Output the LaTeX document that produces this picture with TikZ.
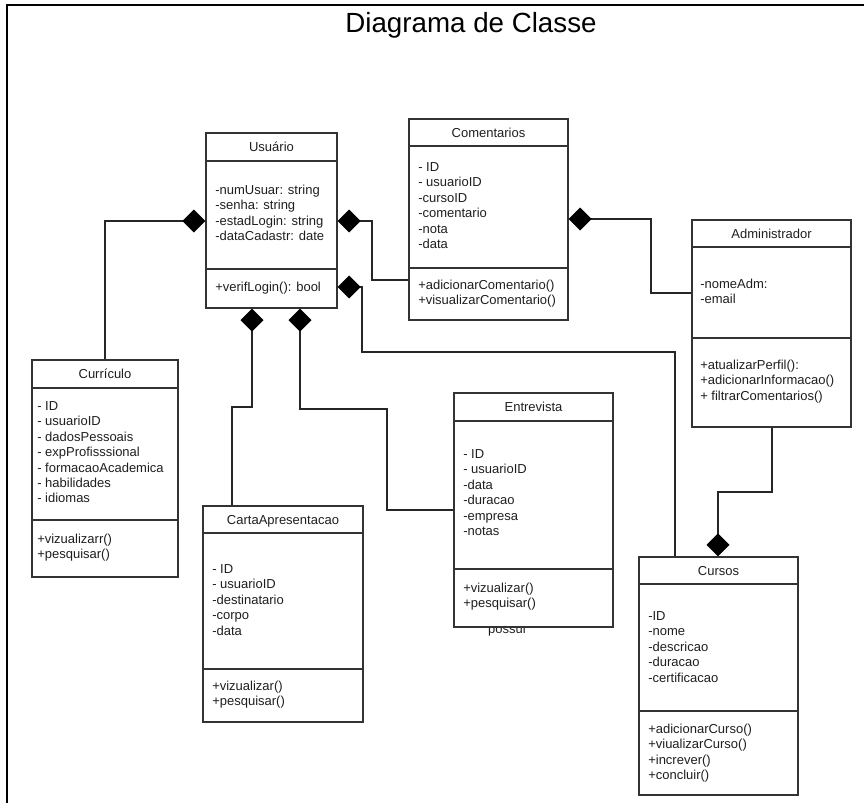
\documentclass[tikz,border=0pt]{standalone}
\usepackage{fontspec}
\setmainfont{Liberation Sans}
\usetikzlibrary{arrows.meta,fit}
\tikzset{
  boxline/.style={line width=1.1pt, draw=black!80},
  classbox/.style={boxline, fill=white, inner sep=0pt, rectangle},
  item/.style={inner sep=0pt, anchor=base west, text=black!88, font=\fontsize{9.75}{11.7}\selectfont},
  hdr/.style={inner sep=0pt, anchor=base, text=black!88, font=\fontsize{9.75}{11.7}\selectfont},
  conn/.style={line width=1.1pt, draw=black!85, line join=miter,
    -{Diamond[length=17.25pt,width=17.25pt,color=black]}},
  plain/.style={line width=1.1pt, draw=black!85},
}
\newcommand{\umlclass}[8]{%
  \coordinate (#1-nw) at (#2,#3);
  \coordinate (#1-se) at (#4,#5);
  \node[classbox, fit=(#1-nw)(#1-se)] (#1) {};
  \draw[boxline] (#1.west |- 0,#6) -- (#1.east |- 0,#6);
  \draw[boxline] (#1.west |- 0,#7) -- (#1.east |- 0,#7);
  \node[hdr] (#1-h) at ({(#2+#4)/2},{(#3+#6)/2+4.5}) {#8};
}
\newcommand{\umlitems}[5]{%
  \foreach \itm [count=\i] in {#5} {\node[item] (#1-#2\i) at (#3,{#4+(\i-1)*15.4+4.5}) {\itm};}%
}
\begin{document}
\begin{tikzpicture}[x=0.75pt,y=-0.75pt]
\useasboundingbox (0,0) rectangle (864,803);
% frame
\draw[line width=2pt, draw=black] (864,5) -- (7,5) -- (7,803);
% title
\node[inner sep=0pt, anchor=base, font=\fontsize{20.8}{24}\selectfont] (title) at (471,32) {Diagrama de Classe};
% label hidden behind Entrevista
\node[hdr] (possui) at (507,633) {possui};

% classes
\umlclass{usuario}{206}{133}{337}{308}{161}{269}{Usuário}
\umlitems{usuario}{a}{215}{190}{{-numUsuar: string},{-senha: string},{-estadLogin: string},{-dataCadastr: date}}
\umlitems{usuario}{m}{215}{287}{{+verifLogin(): bool}}

\umlclass{comentarios}{409}{119}{568}{320}{146}{268}{Comentarios}
\umlitems{comentarios}{a}{418}{167}{{- ID},{- usuarioID},{-cursoID},{-comentario},{-nota},{-data}}
\umlitems{comentarios}{m}{418}{285}{{+adicionarComentario()},{+visualizarComentario()}}

\umlclass{administrador}{692}{220}{851}{427}{247}{338}{Administrador}
\umlitems{administrador}{a}{700}{284}{{-nomeAdm:},{-email}}
\umlitems{administrador}{m}{700}{365}{{+atualizarPerfil():},{+adicionarInformacao()},{+ filtrarComentarios()}}

\umlclass{curriculo}{32}{360}{178}{577}{388}{520}{Currículo}
\umlitems{curriculo}{a}{37}{406}{{- ID},{- usuarioID},{- dadosPessoais},{- expProfisssional},{- formacaoAcademica},{- habilidades},{- idiomas}}
\umlitems{curriculo}{m}{37}{539}{{+vizualizarr()},{+pesquisar()}}

\umlclass{carta}{203}{506}{363}{722}{533}{669}{CartaApresentacao}
\umlitems{carta}{a}{212}{569}{{- ID},{- usuarioID},{-destinatario},{-corpo},{-data}}
\umlitems{carta}{m}{212}{686}{{+vizualizar()},{+pesquisar()}}

\umlclass{entrevista}{454}{393}{613}{627}{421}{569}{Entrevista}
\umlitems{entrevista}{a}{463}{454}{{- ID},{- usuarioID},{-data},{-duracao},{-empresa},{-notas}}
\umlitems{entrevista}{m}{463}{588}{{+vizualizar()},{+pesquisar()}}

\umlclass{cursos}{639}{557}{798}{795}{584}{711}{Cursos}
\umlitems{cursos}{a}{648}{616}{{-ID},{-nome},{-descricao},{-duracao},{-certificacao}}
\umlitems{cursos}{m}{648}{729}{{+adicionarCurso()},{+viualizarCurso()},{+increver()},{+concluir()}}

% connectors (composition diamonds)
\draw[conn] (curriculo.north) |- (usuario.west |- 0,221);
\draw[conn] (comentarios.west |- 0,280) -| (372,221) -- (usuario.east |- 0,221);
\draw[conn] (cursos.north -| 675,0) -- (675,352) -| (362,287) -- (usuario.east |- 0,287);
\draw[conn] (carta.north -| 232,0) -- (232,407) -- (252,407) -- (usuario.south -| 252,0);
\draw[conn] (entrevista.west |- 0,510) -- (387,510) -- (387,409) -- (300,409) -- (usuario.south -| 300,0);
\draw[conn] (administrador.west |- 0,293) -- (651,293) -- (651,219) -- (comentarios.east |- 0,219);
\draw[conn] (administrador.south -| 772,0) -- (772,492) -- (718,492) -- (cursos.north -| 718,0);
\end{tikzpicture}
\end{document}
